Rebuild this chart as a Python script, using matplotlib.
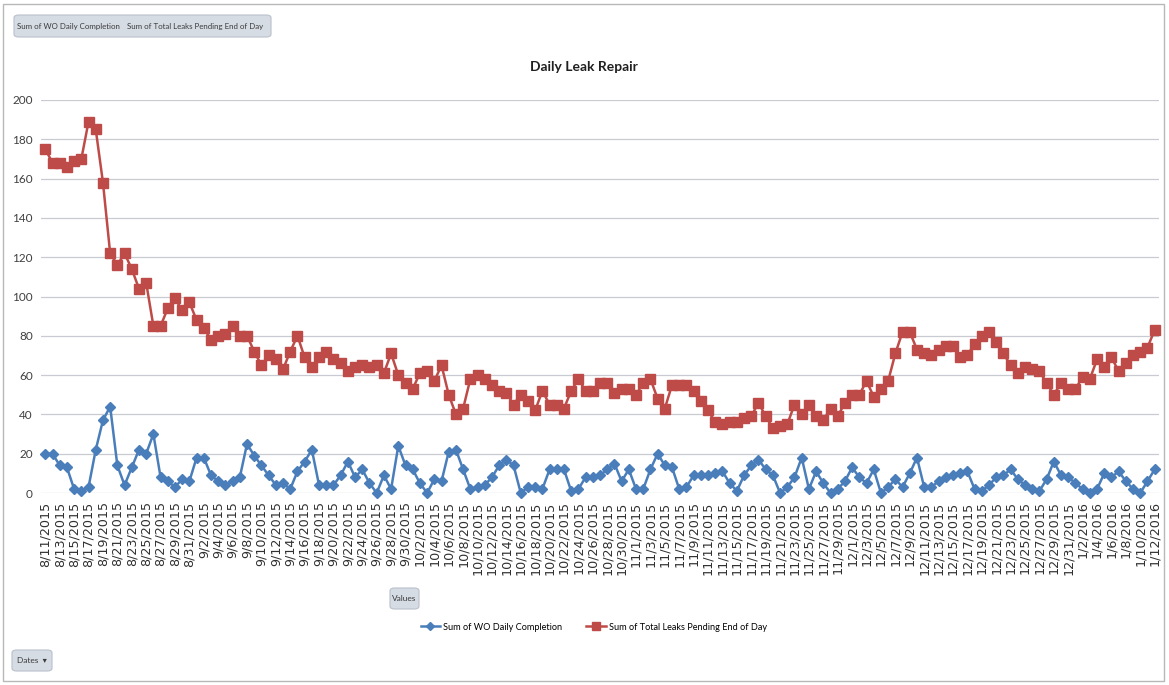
import matplotlib
matplotlib.use("Agg")
import matplotlib.pyplot as plt
from matplotlib.patches import FancyBboxPatch, Rectangle
from matplotlib.lines import Line2D
import pandas as pd

# Daily figures, 8/11/2015 through 1/12/2016
start_date = "2015-08-11"
n_days = 155

wo_daily_completion = [
    20, 20, 14, 13, 2, 1, 3, 22, 37, 44, 14, 4, 13, 22, 20, 30, 8, 6, 3, 7,
    6, 18, 18, 9, 6, 4, 6, 8, 25, 19, 14, 9, 4, 5, 2, 11, 16, 22, 4, 4,
    4, 9, 16, 8, 12, 5, 0, 9, 2, 24, 14, 12, 5, 0, 7, 6, 21, 22, 12, 2,
    3, 4, 8, 14, 17, 14, 0, 3, 3, 2, 12, 12, 12, 1, 2, 8, 8, 9, 12, 15,
    6, 12, 2, 2, 12, 20, 14, 13, 2, 3, 9, 9, 9, 10, 11, 5, 1, 9, 14, 17,
    12, 9, 0, 3, 8, 18, 2, 11, 5, 0, 2, 6, 13, 8, 5, 12, 0, 3, 7, 3,
    10, 18, 3, 3, 6, 8, 9, 10, 11, 2, 1, 4, 8, 9, 12, 7, 4, 2, 1, 7,
    16, 9, 8, 5, 2, 0, 2, 10, 8, 11, 6, 2, 0, 6, 12,
]

leaks_pending_eod = [
    175, 168, 168, 166, 169, 170, 189, 185, 158, 122, 116, 122, 114, 104, 107, 85, 85, 94, 99, 93,
    97, 88, 84, 78, 80, 81, 85, 80, 80, 72, 65, 70, 68, 63, 72, 80, 69, 64, 69, 72,
    68, 66, 62, 64, 65, 64, 65, 61, 71, 60, 56, 53, 61, 62, 57, 65, 50, 40, 43, 58,
    60, 58, 55, 52, 51, 45, 50, 47, 42, 52, 45, 45, 43, 52, 58, 52, 52, 56, 56, 51,
    53, 53, 50, 56, 58, 48, 43, 55, 55, 55, 52, 47, 42, 36, 35, 36, 36, 38, 39, 46,
    39, 33, 34, 35, 45, 40, 45, 39, 37, 43, 39, 46, 50, 50, 57, 49, 53, 57, 71, 82,
    82, 73, 71, 70, 73, 75, 75, 69, 70, 76, 80, 82, 77, 71, 65, 61, 64, 63, 62, 56,
    50, 56, 53, 53, 59, 58, 68, 64, 69, 62, 66, 70, 72, 74, 83,
]

series_names = ["Sum of WO Daily Completion", "Sum of Total Leaks Pending End of Day"]
title = "Daily Leak Repair"
y_ticks = [0, 20, 40, 60, 80, 100, 120, 140, 160, 180, 200]

dates = pd.date_range(start_date, periods=n_days, freq="D")
date_labels = [f"{d.month}/{d.day}/{d.year}" for d in dates]
x = list(range(n_days))

BLUE = "#4A7EBB"
RED = "#BE4B48"
W, H = 1169, 685
UI_FONT = ["Lato", "DejaVu Sans"]

fig = plt.figure(figsize=(W / 100, H / 100), dpi=100)
fig.patch.set_facecolor("white")

# outer chart border
fig.patches.append(Rectangle((3 / W, 1 - 681 / H), (1164 - 3) / W, (681 - 4) / H,
                             transform=fig.transFigure, fill=False,
                             edgecolor="#B8B8B8", linewidth=1.0))

ax = fig.add_axes([41 / W, 1 - 493 / H, (1159 - 41) / W, (493 - 100) / H])
ax.set_xlim(-0.6, n_days - 1 + 0.6)
ax.set_ylim(0, 200)
for s in ax.spines.values():
    s.set_visible(False)

ax.set_yticks(y_ticks)
ax.set_yticklabels([str(v) for v in y_ticks], fontsize=8.5, color="#404040",
                   family=["Lato", "DejaVu Sans"])
ax.yaxis.grid(True, color="#C8CCD2", linewidth=0.9)
ax.set_axisbelow(True)
ax.tick_params(axis="y", length=0, pad=6)

ax.set_xticks(x[::2])
ax.set_xticklabels(date_labels[::2], rotation=90, fontsize=9.2, color="#303030",
                   family="DejaVu Sans")
ax.tick_params(axis="x", length=0, pad=6)

ax.plot(x, wo_daily_completion, color=BLUE, linewidth=1.8, marker="D",
        markersize=5.2, markerfacecolor=BLUE, markeredgecolor=BLUE,
        clip_on=False, zorder=3)
ax.plot(x, leaks_pending_eod, color=RED, linewidth=1.8, marker="s",
        markersize=6.5, markerfacecolor=RED, markeredgecolor=RED,
        clip_on=False, zorder=3)

fig.text(584 / W, 1 - 67 / H, title, ha="center", va="center",
         fontsize=10, fontweight="bold", color="#202020", family="Lato")

# legend
handles = [
    Line2D([], [], color=BLUE, linewidth=1.8, marker="D", markersize=4.5),
    Line2D([], [], color=RED, linewidth=1.8, marker="s", markersize=5.5),
]
fig.legend(handles, series_names, loc="center", ncol=2,
           bbox_to_anchor=(594 / W, 1 - 627 / H), frameon=False,
           prop={"family": "Lato", "size": 6.6}, handlelength=2.1,
           handletextpad=0.4, columnspacing=2.6)


def field_button(x0, y0, x1, y1):
    fig.patches.append(FancyBboxPatch((x0 / W, 1 - y1 / H), (x1 - x0) / W, (y1 - y0) / H,
                                      boxstyle="round,pad=0,rounding_size=0.004",
                                      transform=fig.transFigure,
                                      facecolor="#D6DCE4", edgecolor="#B9C1CC",
                                      linewidth=0.8))


def field_text(xc, yc, label, size=5.7):
    fig.text(xc / W, 1 - yc / H, label, ha="center", va="center",
             fontsize=size, color="#3A3A3A", family=UI_FONT)


# pivot field buttons
field_button(14, 15, 271, 37)
field_text(68, 26, series_names[0])
field_text(195, 26, series_names[1])

field_button(390, 588, 419, 609)
field_text(404.5, 598.5, "Values", size=6.0)
field_button(12, 650, 52, 671)
field_text(32, 660.5, "Dates  \u25be", size=6.0)

fig.savefig("out.png", dpi=100, facecolor="white")
